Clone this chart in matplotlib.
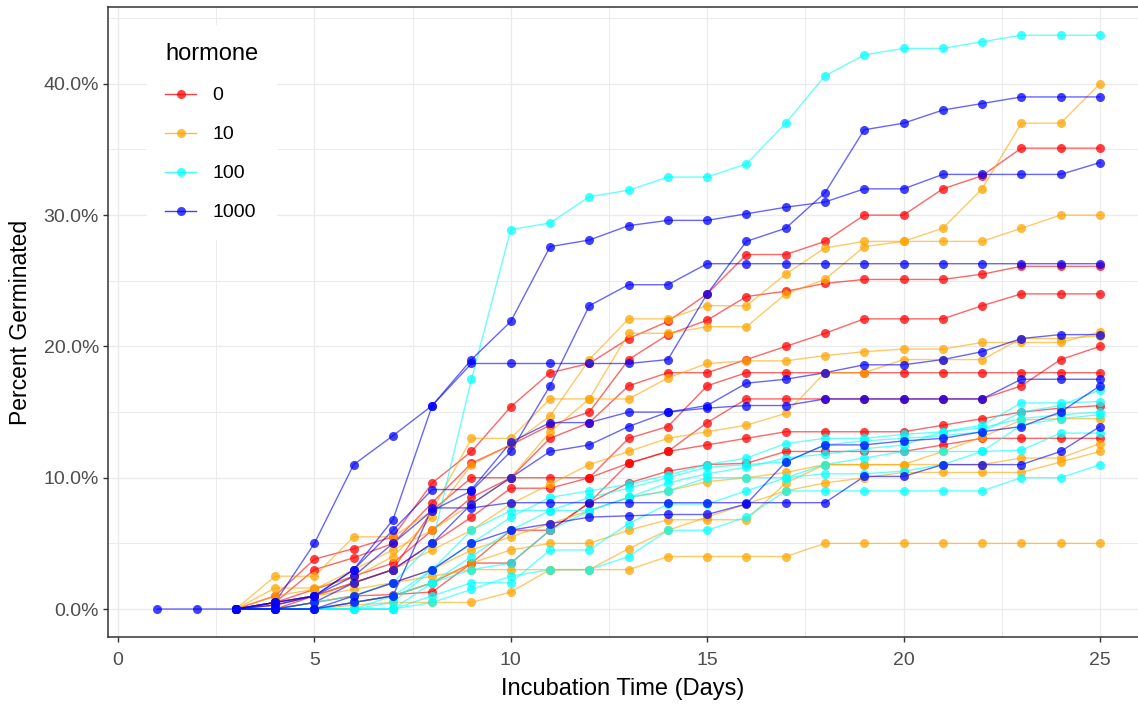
import matplotlib
matplotlib.use("Agg")
import matplotlib.pyplot as plt
from matplotlib.lines import Line2D
from matplotlib.ticker import FuncFormatter, MultipleLocator

plt.rcParams['font.family'] = ['Liberation Sans', 'DejaVu Sans']

# percent germinated per replicate, days 3..25 (one 1000 replicate starts day 1)
days = list(range(3, 26))
days_full = list(range(1, 26))

hormones = ["0", "10", "100", "1000"]
colores = {"0": "#FF0000", "10": "#FFA500", "100": "#00FFFF", "1000": "#0000FF"}

h0 = [
    [0, 1.0, 3.8, 4.6, 5.5, 9.6, 12.0, 15.4, 18.0, 18.7, 20.6, 21.9, 24.0, 27.0, 27.0, 28.0, 30.0, 30.0, 32.0, 33.0, 35.1, 35.1, 35.1],
    [0, 0.5, 3.0, 3.9, 5.0, 8.1, 11.1, 12.5, 14.0, 15.0, 19.0, 20.9, 22.0, 23.8, 24.2, 24.8, 25.1, 25.1, 25.1, 25.5, 26.1, 26.1, 26.1],
    [0, 0.5, 1.5, 2.5, 3.5, 6.0, 8.5, 10.0, 13.0, 14.2, 17.0, 18.0, 18.0, 19.0, 20.0, 21.0, 22.1, 22.1, 22.1, 23.1, 24.0, 24.0, 24.0],
    [0, 0, 1.0, 2.0, 3.0, 5.0, 7.0, 9.2, 9.2, 10.0, 13.0, 13.9, 17.0, 18.0, 18.0, 18.0, 18.0, 18.0, 18.0, 18.0, 18.0, 18.0, 18.0],
    [0, 0, 0.5, 1.0, 1.1, 1.3, 3.5, 6.0, 6.0, 8.1, 11.1, 12.0, 14.2, 16.0, 16.0, 16.0, 16.0, 16.0, 16.0, 16.0, 17.0, 19.0, 20.0],
    [0, 0.3, 1.0, 2.0, 3.0, 7.5, 10.0, 10.0, 10.0, 10.0, 11.1, 12.0, 12.5, 13.0, 13.5, 13.5, 13.5, 13.5, 14.0, 14.5, 15.0, 15.3, 15.5],
    [0, 0, 0, 0.5, 1.0, 2.0, 3.5, 3.5, 6.0, 8.1, 9.6, 10.5, 11.0, 11.1, 12.0, 12.0, 12.0, 12.0, 12.5, 13.0, 13.0, 13.0, 13.0],
]
h10 = [
    [0, 2.5, 2.5, 5.5, 5.5, 7.5, 13.0, 13.0, 16.0, 16.0, 21.0, 21.0, 21.5, 21.5, 24.0, 25.1, 27.6, 28.0, 29.0, 32.0, 37.0, 37.0, 40.0],
    [0, 1.6, 1.6, 2.4, 4.0, 7.0, 11.0, 12.5, 14.7, 19.0, 22.1, 22.1, 23.1, 23.1, 25.5, 27.5, 28.0, 28.0, 28.0, 28.0, 29.0, 30.0, 30.0],
    [0, 1.0, 1.5, 3.0, 4.5, 6.0, 8.0, 10.0, 13.5, 16.0, 16.0, 17.6, 18.7, 18.9, 18.9, 19.3, 19.6, 19.8, 19.8, 20.3, 20.3, 20.3, 21.1],
    [0, 0.5, 1.0, 2.0, 3.0, 4.5, 6.0, 8.0, 9.5, 11.0, 12.0, 13.0, 13.5, 14.0, 14.9, 18.0, 18.0, 19.0, 19.0, 19.0, 20.6, 20.6, 20.8],
    [0, 0, 0.5, 1.0, 2.0, 3.0, 4.5, 5.5, 6.5, 7.5, 8.5, 9.0, 9.7, 10.0, 10.4, 11.0, 11.0, 11.0, 12.0, 13.1, 14.4, 14.5, 14.5],
    [0, 0, 0, 0.5, 1.0, 2.0, 3.5, 4.5, 5.0, 5.0, 6.0, 6.8, 6.8, 6.8, 9.6, 11.0, 11.0, 11.0, 11.0, 11.0, 11.5, 11.5, 12.6],
    [0, 0, 0, 0.3, 0.5, 0.5, 0.5, 1.3, 3.0, 3.0, 4.6, 6.0, 7.0, 8.0, 9.0, 9.6, 10.0, 10.4, 10.4, 10.4, 10.4, 11.2, 12.0],
    [0, 0.5, 1.0, 1.5, 2.0, 2.5, 3.0, 3.0, 3.0, 3.0, 3.0, 4.0, 4.0, 4.0, 4.0, 5.0, 5.0, 5.0, 5.0, 5.0, 5.0, 5.0, 5.0],
]
h100 = [
    [0, 0, 0.5, 1.0, 2.0, 5.0, 17.5, 28.9, 29.4, 31.4, 31.9, 32.9, 32.9, 33.9, 37.0, 40.6, 42.2, 42.7, 42.7, 43.2, 43.7, 43.7, 43.7],
    [0, 0, 0, 0.5, 1.0, 3.0, 5.0, 7.0, 8.5, 9.0, 9.5, 10.2, 11.0, 11.5, 12.6, 13.0, 13.0, 13.3, 13.5, 13.8, 14.5, 14.8, 15.0],
    [0, 0, 0, 0, 0, 2.0, 4.0, 6.0, 7.5, 8.5, 9.2, 10.0, 10.8, 11.0, 11.2, 12.5, 12.8, 13.0, 13.2, 13.5, 15.0, 15.5, 16.7],
    [0, 0, 0, 0, 1.0, 2.0, 3.0, 3.5, 6.0, 7.5, 8.5, 9.6, 10.3, 10.8, 11.5, 11.8, 12.2, 12.5, 13.5, 14.0, 15.7, 15.7, 15.8],
    [0, 0, 0, 0, 0, 1.0, 2.0, 2.0, 4.5, 4.5, 6.5, 8.0, 8.0, 9.0, 10.0, 11.0, 11.5, 12.0, 12.0, 12.0, 12.1, 13.4, 13.4],
    [0, 0, 0, 0, 0, 0.5, 1.5, 2.5, 3.0, 3.0, 4.0, 6.0, 6.0, 7.0, 9.0, 9.0, 9.0, 9.0, 9.0, 9.0, 10.0, 10.0, 11.0],
    [0, 0, 0, 0, 0.5, 3.0, 6.0, 7.5, 7.5, 7.5, 8.5, 9.0, 10.0, 10.0, 10.0, 10.3, 10.3, 10.5, 11.0, 12.0, 14.0, 14.5, 14.8],
]
h1000_full = [0, 0, 0, 0.5, 5.0, 11.0, 13.2, 15.5, 19.0, 21.9, 27.6, 28.1, 29.2, 29.6, 29.6, 30.1, 30.6, 31.0, 32.0, 32.0, 33.1, 33.1, 33.1, 33.1, 34.0]
h1000 = [
    [0, 0.5, 1.0, 3.0, 6.8, 15.5, 18.7, 18.7, 18.7, 18.7, 18.7, 19.0, 24.0, 28.0, 29.0, 31.7, 36.5, 37.0, 38.0, 38.5, 39.0, 39.0, 39.0],
    [0, 0.3, 1.0, 2.5, 5.0, 7.5, 9.0, 12.0, 17.0, 23.1, 24.7, 24.7, 26.3, 26.3, 26.3, 26.3, 26.3, 26.3, 26.3, 26.3, 26.3, 26.3, 26.3],
    [0, 0, 0.5, 2.0, 3.0, 5.0, 8.0, 10.0, 12.0, 12.5, 13.9, 15.0, 15.5, 17.2, 17.5, 18.0, 18.6, 18.6, 19.0, 19.6, 20.6, 20.9, 20.9],
    [0, 0.5, 1.0, 3.0, 6.0, 9.1, 9.1, 12.7, 14.2, 14.2, 15.0, 15.0, 15.3, 15.5, 15.5, 16.0, 16.0, 16.0, 16.0, 16.0, 17.5, 17.5, 17.5],
    [0, 0, 0, 1.0, 2.0, 3.0, 5.0, 6.0, 6.5, 7.0, 7.1, 7.2, 7.2, 8.0, 11.2, 12.5, 12.5, 12.8, 13.0, 13.5, 13.9, 15.0, 17.0],
    [0, 0, 0, 0.5, 1.0, 7.7, 7.7, 8.1, 8.1, 8.1, 8.1, 8.1, 8.1, 8.1, 8.1, 8.1, 10.1, 10.1, 11.0, 11.0, 11.0, 12.0, 13.9],
]

series = []
for h, grupo in zip(hormones, [h0, h10, h100, h1000]):
    for fila in grupo:
        series.append((h, days, fila))
series.append(("1000", days_full, h1000_full))

fig = plt.figure(figsize=(11.38, 7.04), dpi=100)
ax = fig.add_axes([108/1138, 1 - 637/704, 1030/1138, 630/704])

# lines first, then points (geom_line + geom_point)
for h, x, y in series:
    ax.plot(x, y, color=colores[h], lw=1.0, alpha=0.6, zorder=2)
for h, x, y in series:
    ax.plot(x, y, ls='none', marker='o', ms=6.5, mew=0,
            color=colores[h], alpha=0.75, zorder=3)

ax.set_xlim(-0.255, 25.97)
ax.set_ylim(-2.13, 45.85)

ax.xaxis.set_major_locator(MultipleLocator(5))
ax.xaxis.set_minor_locator(MultipleLocator(2.5))
ax.yaxis.set_major_locator(MultipleLocator(10))
ax.yaxis.set_minor_locator(MultipleLocator(5))
ax.yaxis.set_major_formatter(FuncFormatter(lambda v, p: f"{v:.1f}%"))

ax.grid(which='major', color='#EBEBEB', lw=1.0, zorder=0)
ax.grid(which='minor', color='#EBEBEB', lw=0.7, zorder=0)
ax.set_axisbelow(True)

for s in ['left', 'bottom', 'top']:
    ax.spines[s].set_color('#333333')
    ax.spines[s].set_linewidth(1.1)
ax.spines['right'].set_visible(False)

ax.tick_params(which='major', length=3.5, width=1, color='#333333',
               labelsize=14, labelcolor='#4D4D4D', pad=3)
ax.tick_params(axis='x', which='major', pad=7)
ax.tick_params(which='minor', length=0)

ax.set_xlabel("Incubation Time (Days)", fontsize=17, labelpad=7)
ax.set_ylabel("Percent Germinated", fontsize=16.5, labelpad=8)

handles = [Line2D([], [], color=colores[h], lw=1.0, marker='o', ms=6.5,
                  mew=0, alpha=0.75) for h in hormones]
leg = ax.legend(handles, hormones, title="hormone", loc='upper left',
                bbox_to_anchor=(147/1138, 1 - 25/704),
                bbox_transform=fig.transFigure, borderaxespad=0,
                frameon=True, facecolor='white', edgecolor='none',
                framealpha=1, fancybox=False, fontsize=14,
                title_fontsize=17, handlelength=1.55, handletextpad=0.85,
                labelspacing=1.1, borderpad=0.95)
leg._legend_box.align = "left"

fig.savefig("out.png", dpi=100)
